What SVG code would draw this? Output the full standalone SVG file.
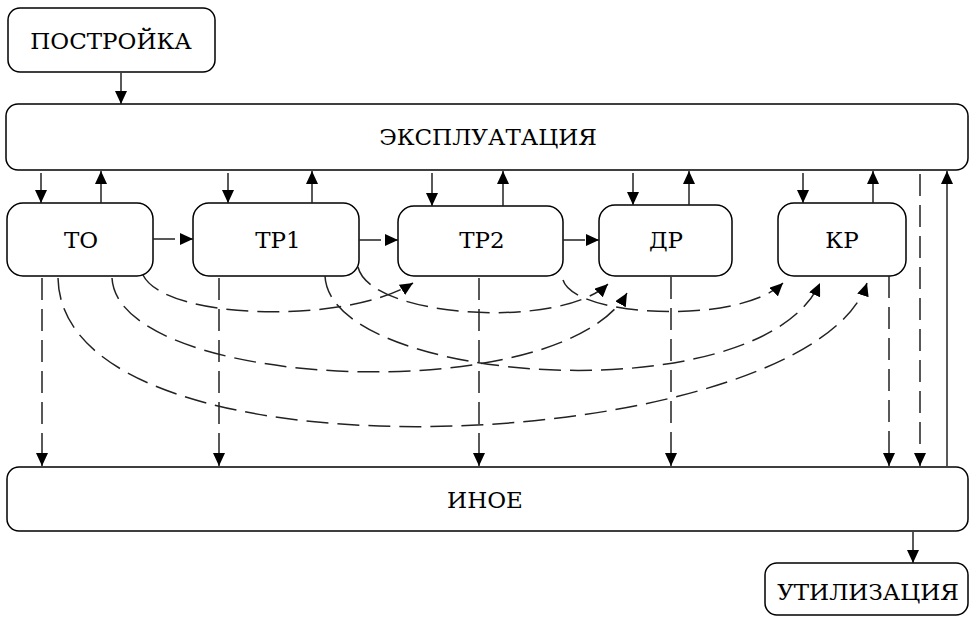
<svg xmlns="http://www.w3.org/2000/svg" width="970" height="622" viewBox="0 0 970 622">
<defs>
<marker id="ah" viewBox="0 0 13 12" refX="13" refY="6" markerWidth="13" markerHeight="12" markerUnits="userSpaceOnUse" orient="auto">
<path d="M0,0 L13,6 L0,12 z" fill="#000"/>
</marker>
</defs>
<style>
.box{fill:#fff;stroke:#000;stroke-width:1.5}
.t{font-family:"DejaVu Serif","Liberation Serif",serif;font-size:23px;fill:#000;text-anchor:middle}
.s{fill:none;stroke:#222;stroke-width:1.5;marker-end:url(#ah)}
.d{fill:none;stroke:#222;stroke-width:1.5;stroke-dasharray:22 9;marker-end:url(#ah)}
</style>
<g id="n-postroyka"><rect class="box" x="8" y="8" width="207" height="64" rx="12"/><text class="t" x="111" y="49">ПОСТРОЙКА</text></g>
<g id="n-ekspl"><rect class="box" x="6" y="104" width="962" height="66" rx="12"/><text class="t" x="488" y="145">ЭКСПЛУАТАЦИЯ</text></g>
<g id="n-to"><rect class="box" x="7" y="203" width="146" height="73" rx="16"/><text class="t" x="81" y="248">ТО</text></g>
<g id="n-tr1"><rect class="box" x="193" y="203" width="166" height="73" rx="16"/><text class="t" x="278" y="248">ТР1</text></g>
<g id="n-tr2"><rect class="box" x="398" y="206" width="165" height="70" rx="16"/><text class="t" x="482" y="248">ТР2</text></g>
<g id="n-dr"><rect class="box" x="599" y="205" width="133" height="71" rx="16"/><text class="t" x="666" y="248">ДР</text></g>
<g id="n-kr"><rect class="box" x="778" y="203" width="128" height="73" rx="16"/><text class="t" x="842" y="248">КР</text></g>
<g id="n-inoe"><rect class="box" x="7" y="467" width="961" height="64" rx="12"/><text class="t" x="485" y="508">ИНОЕ</text></g>
<g id="n-util"><rect class="box" x="765" y="563" width="203" height="52" rx="12"/><text class="t" x="868" y="600">УТИЛИЗАЦИЯ</text></g>
<g id="connectors">
<path class="s" d="M121,73 V104"/>
<path class="s" d="M913,532 V563"/>
<path class="s" d="M41,173 V203"/>
<path class="s" d="M101,203 V171"/>
<path class="s" d="M228,173 V203"/>
<path class="s" d="M312,203 V171"/>
<path class="s" d="M432,173 V206"/>
<path class="s" d="M503,206 V171"/>
<path class="s" d="M633,173 V205"/>
<path class="s" d="M689,205 V171"/>
<path class="s" d="M803,173 V203"/>
<path class="s" d="M873,203 V171"/>
<path class="s" d="M947,466 V171"/>
<path class="d" d="M153,239 H193"/>
<path class="d" d="M359,240 H398"/>
<path class="d" d="M563,240 H599"/>
<path class="d" d="M42,278 V466"/>
<path class="d" d="M219,278 V466"/>
<path class="d" d="M479,278 V466"/>
<path class="d" d="M671,277 V466"/>
<path class="d" d="M889,276 V466"/>
<path class="d" d="M920,174 V466"/>
<path class="d" d="M143,275 C165,320 345,325 413,283"/>
<path class="d" d="M112,278 C118,390 560,410 627,293"/>
<path class="d" d="M58,278 C62,495 810,455 867,283"/>
<path class="d" d="M358,267 C370,318 560,330 608,284"/>
<path class="d" d="M325,276 C330,385 760,415 820,283"/>
<path class="d" d="M563,280 C575,318 740,325 783,283"/>
</g>
</svg>
